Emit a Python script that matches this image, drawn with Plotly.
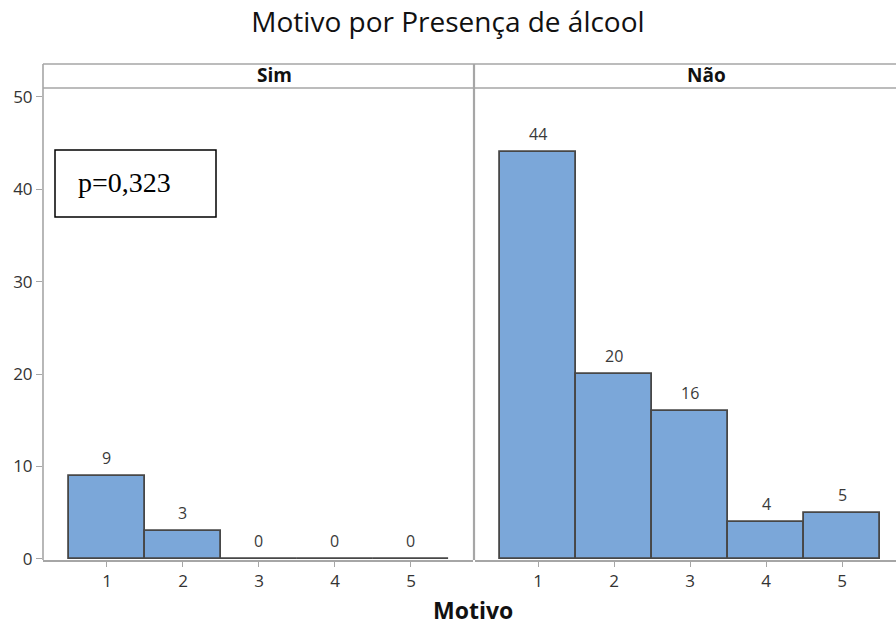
import plotly.graph_objects as go

# Frequencies of "Motivo" by presence of alcohol
categories = [1, 2, 3, 4, 5]
panels = ["Sim", "Não"]
counts_sim = [9, 3, 0, 0, 0]
counts_nao = [44, 20, 16, 4, 5]
p_value_text = "p=0,323"

W, H = 896, 626
ML, MR, MT, MB = 43, 0, 88, 66
PW, PH = W - ML - MR, H - MT - MB


def fx(px):
    return (px - ML) / PW


def fy(py):
    return (H - MB - py) / PH


BAR_FILL = "#7BA7D9"
BAR_EDGE = "#474747"
FRAME = "#A6A6A6"
FONT = "Open Sans"
TICK_FONT = dict(family=FONT, size=17, color="#333333")

fig = go.Figure()
for i, (name, vals) in enumerate([(panels[0], counts_sim), (panels[1], counts_nao)]):
    ax = "" if i == 0 else "2"
    fig.add_trace(go.Bar(
        x=categories, y=vals, width=1.0, name=name,
        marker=dict(color=BAR_FILL, line=dict(color=BAR_EDGE, width=1.8)),
        xaxis="x" + ax, yaxis="y", showlegend=False,
    ))
    for c, v in zip(categories, vals):
        fig.add_annotation(
            x=c, y=v, xref="x" + ax, yref="y", text=str(v), showarrow=False,
            yanchor="middle", yshift=18,
            font=dict(family=FONT, size=16, color="#3A3A3A"),
        )

left_dom = [0, fx(473)]
right_dom = [fx(475), 1]

axis_common = dict(
    tickmode="array", tickvals=categories, ticks="outside", ticklen=5,
    tickcolor=FRAME, showgrid=False, zeroline=False, showline=True,
    linecolor=FRAME, linewidth=1.5, tickfont=TICK_FONT,
)

fig.update_layout(
    width=W, height=H,
    margin=dict(l=ML, r=MR, t=MT, b=MB),
    plot_bgcolor="white", paper_bgcolor="white",
    bargap=0,
    title=dict(text="Motivo por Presença de álcool", x=0.5, xanchor="center",
               y=1 - 22 / H, yanchor="middle",
               font=dict(family=FONT, size=28, color="#111111")),
    xaxis=dict(domain=left_dom, range=[0.158, 5.816], **axis_common),
    xaxis2=dict(domain=right_dom, range=[0.171, 5.71], anchor="y", **axis_common),
    yaxis=dict(range=[-0.11, 50.94], tickvals=[0, 10, 20, 30, 40, 50],
               ticks="outside", ticklen=6, tickcolor=FRAME, showgrid=False,
               zeroline=False, showline=False, tickfont=TICK_FONT),
)

top = fy(64)
line_style = dict(color=FRAME, width=1.6)
# panel frame: top rule, strip rule, left edge and divider
fig.add_shape(type="line", xref="paper", yref="paper", x0=0, x1=1, y0=top, y1=top, line=line_style)
fig.add_shape(type="line", xref="paper", yref="paper", x0=0, x1=1, y0=1, y1=1, line=line_style)
fig.add_shape(type="line", xref="paper", yref="paper", x0=0, x1=0, y0=0, y1=top, line=line_style)
fig.add_shape(type="line", xref="paper", yref="paper", x0=fx(474), x1=fx(474), y0=0, y1=top,
              line=dict(color=FRAME, width=2.2))

# strip labels
for label, cx in zip(panels, [274, 706]):
    fig.add_annotation(x=fx(cx), y=fy(75), xref="paper", yref="paper", text="<b>" + label + "</b>",
                       showarrow=False, xanchor="center", yanchor="middle",
                       font=dict(family=FONT, size=19, color="#111111"))

# x-axis title
fig.add_annotation(x=fx(473), y=fy(610), xref="paper", yref="paper", text="<b>Motivo</b>",
                   showarrow=False, xanchor="center", yanchor="middle",
                   font=dict(family=FONT, size=23, color="#111111"))

# p-value box
fig.add_shape(type="rect", xref="paper", yref="paper", x0=fx(55), x1=fx(216), y0=fy(217), y1=fy(150),
              line=dict(color="black", width=1.5), fillcolor="white")
fig.add_annotation(x=fx(76), y=fy(182), xref="paper", yref="paper", text=p_value_text,
                   showarrow=False, xanchor="left", yanchor="middle",
                   font=dict(family="Liberation Serif", size=28, color="black"))

fig.write_html("out.html")
